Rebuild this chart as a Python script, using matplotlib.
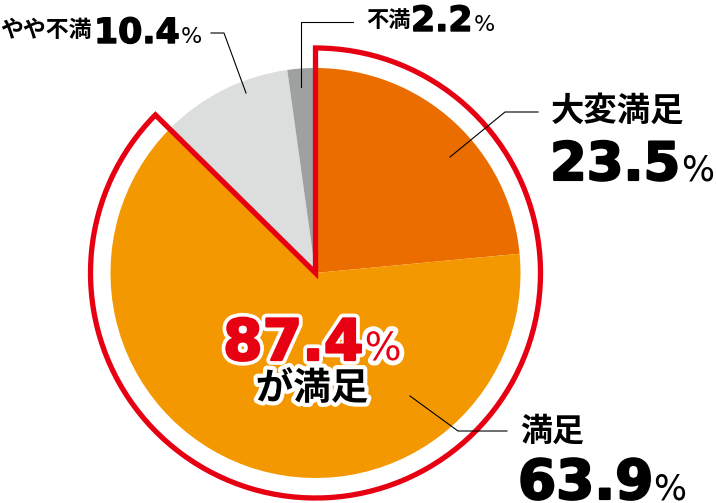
import numpy as np
import matplotlib
matplotlib.use("Agg")
import matplotlib.pyplot as plt
from matplotlib.patches import Wedge
import matplotlib.patheffects as pe

# データ
labels = ["大変満足", "満足", "やや不満", "不満"]
values = [23.5, 63.9, 10.4, 2.2]
colors = ["#EB6D00", "#F39800", "#DCDDDD", "#9FA0A0"]
satisfied = values[0] + values[1]   # 87.4

W, H = 716, 503
JP = ["Noto Sans CJK JP", "DejaVu Sans"]
NUM = ["DejaVu Sans"]
RED = "#E60012"

fig = plt.figure(figsize=(W / 100, H / 100), dpi=100)
ax = fig.add_axes([0, 0, 1, 1])

def Y(y):  # 画像座標(上から) -> データ座標
    return H - y

cx, cy, r = 315.5, Y(273), 205
ax.pie(values, colors=colors, startangle=90, counterclock=False,
       center=(cx, cy), radius=r, wedgeprops=dict(linewidth=0), frame=True)
ax.set_xlim(0, W)
ax.set_ylim(0, H)
ax.set_aspect("equal")
ax.axis("off")

# 満足 + 大変満足 を囲む赤枠
end = 90 - 360 * satisfied / sum(values)
ax.add_patch(Wedge((cx, cy), 225, end + 360, 450,
                   fill=False, edgecolor=RED, linewidth=3.8, joinstyle="miter", zorder=5))

# 引き出し線
lk = dict(color="black", linewidth=0.8, zorder=6)
ax.plot([211, 224, 246], [Y(33), Y(33), Y(93)], **lk)
ax.plot([353, 301, 301], [Y(22), Y(22), Y(87)], **lk)
ax.plot([450, 505, 538], [Y(157), Y(112), Y(112)], **lk)
ax.plot([410, 458, 507], [Y(396), Y(431), Y(431)], **lk)

fig.canvas.draw()
renderer = fig.canvas.get_renderer()

def num_label(x, ybase, v, size, psize, color="black", halo=False, gap=0):
    fx = [pe.Stroke(linewidth=size * 0.04, foreground=color), pe.Normal()]
    if halo:
        fx = [pe.Stroke(linewidth=7, foreground="white")] + fx
    t = ax.text(x, Y(ybase), f"{v:.1f}", family=NUM, weight="bold", fontsize=size,
                color=color, va="baseline", path_effects=fx, zorder=7)
    bb = t.get_window_extent(renderer)
    pfx = [pe.Stroke(linewidth=7, foreground="white"), pe.Normal()] if halo else None
    ax.text(bb.x1 + gap, Y(ybase), "%", family=NUM, fontsize=psize, color=color,
            va="baseline", path_effects=pfx, zorder=7)

# やや不満
ax.text(0, Y(30), labels[2], family=JP, weight="bold", fontsize=16.5, va="center", ha="left")
num_label(94, 43, values[2], 25, 16, gap=1)

# 不満
ax.text(366, Y(20), labels[3], family=JP, weight="bold", fontsize=16, va="center")
num_label(411, 31, values[3], 25, 16, gap=1)

# 大変満足
ax.text(551, Y(111), labels[0], family=JP, weight="bold", fontsize=24, va="center")
num_label(550, 180, values[0], 38, 25, gap=1)

# 満足
ax.text(520, Y(432), labels[1], family=JP, weight="bold", fontsize=23, va="center")
num_label(518, 499, values[1], 39.5, 25)

# 中央
num_label(223, 360, satisfied, 41, 28, color=RED, halo=True, gap=1)
ax.text(312, Y(388), "が満足", family=JP, weight="bold", fontsize=27,
        ha="center", va="center", zorder=7,
        path_effects=[pe.Stroke(linewidth=6, foreground="white"), pe.Normal()])

fig.savefig("out.png", dpi=100)
